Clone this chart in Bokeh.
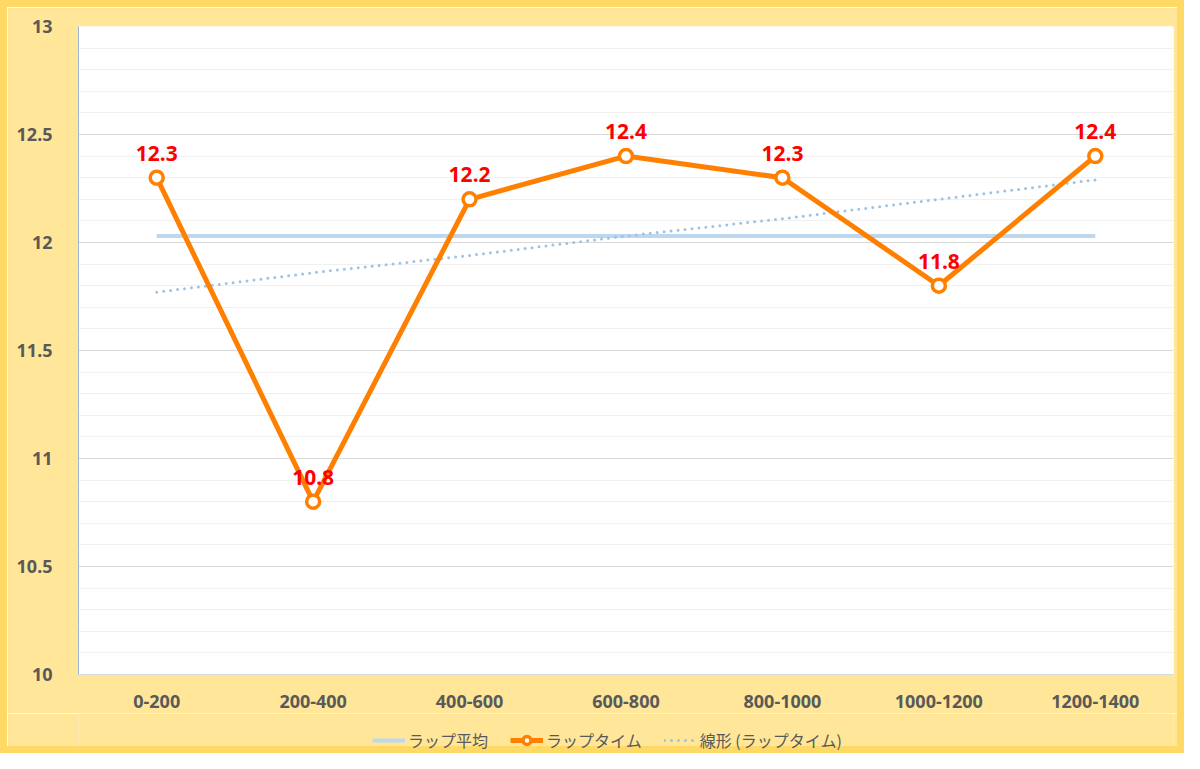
from bokeh.plotting import figure
from bokeh.layouts import column
from bokeh.models import (ColumnDataSource, SingleIntervalTicker, Legend, LegendItem, Range1d, FactorRange)
from bokeh.core.properties import value
from bokeh.embed import file_html
from bokeh.resources import INLINE

categories = ["0-200", "200-400", "400-600", "600-800", "800-1000", "1000-1200", "1200-1400"]
lap_times = [12.3, 10.8, 12.2, 12.4, 12.3, 11.8, 12.4]
lap_average = [12.03, 12.03, 12.03, 12.03, 12.03, 12.03, 12.03]
trend_values = [11.77, 11.86, 11.94, 12.03, 12.11, 12.20, 12.29]
lap_labels = ["12.3", "10.8", "12.2", "12.4", "12.3", "11.8", "12.4"]
y_tick_labels = {10: "10", 10.5: "10.5", 11: "11", 11.5: "11.5", 12: "12", 12.5: "12.5", 13: "13"}
legend_labels = ["ラップ平均", "ラップタイム", "線形 (ラップタイム)"]

BORDER = "7px solid #FFD966"
BG = "#FFE699"
C_AVG, C_TREND, C_LAP = "#BDD7EE", "#9DC3E6", "#FF8000"

src = ColumnDataSource(dict(cat=categories, lap=lap_times, avg=lap_average,
                            trend=trend_values, lbl=lap_labels))
xr = FactorRange(factors=categories, range_padding=0)

p = figure(x_range=xr, y_range=Range1d(10, 13),
           width=1184, height=713, output_backend="svg", toolbar_location=None,
           min_border_left=71, min_border_right=18, min_border_top=19, min_border_bottom=46)
p.styles = {"border-top": BORDER, "border-left": BORDER, "border-right": BORDER}
p.background_fill_color = "white"
p.border_fill_color = BG
p.outline_line_color = None

p.yaxis.ticker = SingleIntervalTicker(interval=0.5, num_minor_ticks=5)
p.yaxis.major_label_overrides = y_tick_labels
p.yaxis.major_tick_line_color = None
p.yaxis.minor_tick_line_color = None
p.yaxis.axis_line_color = "#9DB5D6"
p.yaxis.major_label_standoff = 20
p.xaxis.major_tick_line_color = None
p.xaxis.axis_line_color = "#D9D9D9"
p.xaxis.major_label_standoff = 14
for ax in (p.xaxis, p.yaxis):
    ax.major_label_text_font = "Noto Sans"
    ax.major_label_text_font_style = "bold"
    ax.major_label_text_font_size = "18px"
    ax.major_label_text_color = "#595959"

p.xgrid.grid_line_color = None
p.ygrid.ticker = SingleIntervalTicker(interval=0.5, num_minor_ticks=5)
p.ygrid.grid_line_color = "#D9D9D9"
p.ygrid.minor_grid_line_color = "#F0F0F0"

p.line("cat", "avg", source=src, line_color=C_AVG, line_width=4)
p.line("cat", "trend", source=src, line_color=C_TREND, line_width=3,
       line_dash="0 7", line_cap="round")
p.line("cat", "lap", source=src, line_color=C_LAP, line_width=5)
p.scatter("cat", "lap", source=src, size=13, fill_color="white",
          line_color=C_LAP, line_width=3.5)

p.text("cat", "lap", text="lbl", source=src, text_color="#FF0000",
       text_font=value("Noto Sans"), text_font_style="bold", text_font_size="21px",
       text_align="center", text_baseline="bottom", y_offset=-17)

# legend strip: same series, drawn out of its visible y range, only the legend shows
p2 = figure(width=1184, height=40, output_backend="svg", toolbar_location=None,
            x_range=xr, y_range=Range1d(20, 21), min_border=0)
p2.styles = {"border-bottom": BORDER, "border-left": BORDER, "border-right": BORDER}
p2.axis.visible = False
p2.grid.visible = False
p2.background_fill_color = BG
p2.border_fill_color = BG
p2.outline_line_color = None
l_avg = p2.line("cat", "avg", source=src, line_color=C_AVG, line_width=4)
l_lap = p2.line("cat", "lap", source=src, line_color=C_LAP, line_width=5)
l_pts = p2.scatter("cat", "lap", source=src, size=13, fill_color="white",
                   line_color=C_LAP, line_width=3.5)
l_trend = p2.line("cat", "trend", source=src, line_color=C_TREND, line_width=3,
                  line_dash="0 7", line_cap="round")

legend = Legend(items=[
    LegendItem(label=legend_labels[0], renderers=[l_avg]),
    LegendItem(label=legend_labels[1], renderers=[l_lap, l_pts]),
    LegendItem(label=legend_labels[2], renderers=[l_trend]),
], orientation="horizontal", location=(294, 1))
legend.label_text_font = "Noto Sans CJK JP"
legend.label_text_font_size = "16px"
legend.label_text_color = "#595959"
legend.glyph_width = 33
legend.label_standoff = 3
legend.spacing = 22
legend.padding = 0
legend.margin = 0
legend.border_line_color = None
legend.background_fill_alpha = 0
p2.add_layout(legend)

layout = column(p, p2, spacing=0)
open("out.html", "w").write(file_html(layout, INLINE))
